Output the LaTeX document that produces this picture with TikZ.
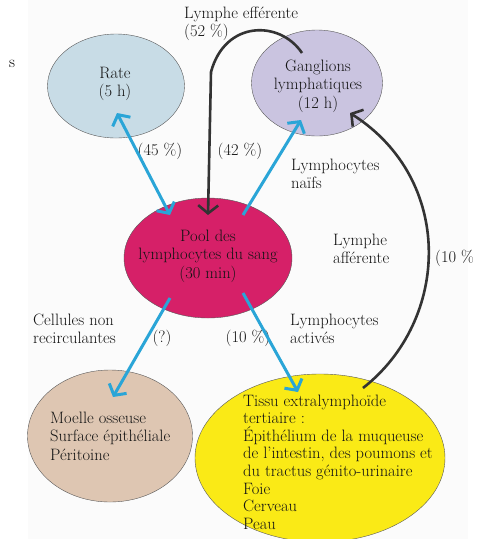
\documentclass[tikz,border=0pt]{standalone}
\usetikzlibrary{shapes.geometric,arrows.meta,calc}
\definecolor{flecheBleue}{RGB}{42,165,215}
\definecolor{rateFond}{RGB}{200,220,230}
\definecolor{gangFond}{RGB}{202,196,224}
\definecolor{poolFond}{RGB}{214,32,104}
\definecolor{moelleFond}{RGB}{222,198,178}
\definecolor{tissuFond}{RGB}{250,234,22}
\definecolor{page}{RGB}{251,251,251}
\begin{document}
\begin{tikzpicture}[x=1pt,y=-1pt,font={\fontsize{16.5}{18.5}\selectfont},
  bulle/.style={ellipse,draw=black!65,thin,inner sep=0pt},
  texte/.style={inner sep=0pt,align=left,text=black!92},
  bleu/.style={line width=3pt,draw=flecheBleue,-{Straight Barb[length=8pt,width=20pt]}},
  lymphe/.style={line width=2.6pt,draw=black!80,-{Straight Barb[length=8pt,width=20pt]}}]
\useasboundingbox (0,0) rectangle (483,539);
\fill[page] (28,0) rectangle (468,539);
%\draw[help lines,step=20] (0,0) grid (483,539);
\node (bord) at (12,64) {s};
% les compartiments
\node[bulle,fill=rateFond,minimum width=137pt,minimum height=104pt] (rate) at (116,86) {};
\node[bulle,fill=gangFond,minimum width=131pt,minimum height=106pt] (gang) at (317,83) {};
\node[bulle,fill=poolFond,minimum width=168pt,minimum height=120pt] (pool) at (208,258) {};
\node[bulle,fill=moelleFond,minimum width=165pt,minimum height=132pt] (moelle) at (110,436) {};
\node[bulle,fill=tissuFond,minimum width=250pt,minimum height=168pt] (tissu) at (320,458) {};
\node[texte,align=center] (rateTxt) at (115,84) {Rate\\(5 h)};
\node[texte,align=center] (gangTxt) at (318,86) {Ganglions\\lymphatiques\\(12 h)};
\node[texte,align=center] (poolTxt) at (208,256) {Pool des\\lymphocytes du sang\\(30 min)};
\node[texte,anchor=west] (moelleTxt) at (50,436) {Moelle osseuse\\Surface épithéliale\\Péritoine};
\node[texte,anchor=west,font={\fontsize{16.5}{17.6}\selectfont}] (tissuTxt) at (243,462)
  {Tissu extralymphoïde\\tertiaire :\\Épithélium de la muqueuse\\de l'intestin, des poumons et\\du tractus génito-urinaire\\Foie\\Cerveau\\Peau};
% les etiquettes
\node[texte,anchor=west] (effTxt) at (184,24) {Lymphe efférente\\(52 \%)};
\node[texte] (p45) at (160,151) {(45 \%)};
\node[texte] (p42) at (240,151) {(42 \%)};
\node[texte,anchor=west] (naifs) at (291,174) {Lymphocytes\\naïfs};
\node[texte,anchor=west] (affTxt) at (333,249) {Lymphe\\afférente};
\node[texte,anchor=west] (p10a) at (435,258) {(10 \%};
\node[texte,anchor=west] (nonrec) at (33,329) {Cellules non\\recirculantes};
\node[texte] (pq) at (162,338) {(?)};
\node[texte] (p10b) at (248,338) {(10 \%)};
\node[texte,anchor=west] (actives) at (290,329) {Lymphocytes\\activés};
% les fleches
\draw[bleu,{Straight Barb[length=8pt,width=20pt]}-{Straight Barb[length=8pt,width=20pt]}] ($(rate)+(1,27)$) -- ($(pool)+(-38,-43)$);
\draw[bleu] ($(pool)+(35,-43)$) -- ($(gang)+(-16,37)$);
\draw[bleu] ($(pool)+(-38,40)$) -- ($(moelle)+(3,-39)$);
\draw[bleu] ($(pool)+(35,35)$) -- ($(tissu)+(-22,-66)$);
\draw[lymphe] ($(gang)+(-15,-30)$) .. controls (280,20) and (225,20) .. (211,72) -- ($(pool)+(0,-43)$);
\draw[lymphe] ($(tissu)+(43,-70)$) .. controls (450,320) and (455,180) .. ($(gang)+(33,30)$);
\end{tikzpicture}
\end{document}
